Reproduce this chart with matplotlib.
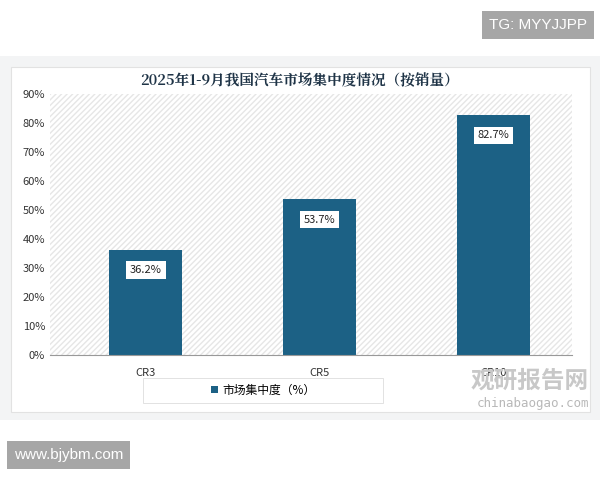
import matplotlib
matplotlib.use("Agg")
import matplotlib.pyplot as plt
from matplotlib.patches import Rectangle
from matplotlib.ticker import FuncFormatter

plt.rcParams["font.family"] = ["Noto Sans CJK SC", "DejaVu Sans"]

categories = ["CR3", "CR5", "CR10"]
values = [36.2, 53.7, 82.7]
title = "2025年1-9月我国汽车市场集中度情况（按销量）"
legend_label = "市场集中度（%）"
BAR = "#1c6185"

fig = plt.figure(figsize=(6, 4.8), dpi=100)
fig.patch.set_facecolor("white")

# card with soft shadow
fig.patches.append(Rectangle((0.0, 1 - 420 / 480), 1.0, (420 - 56) / 480,
                             transform=fig.transFigure, facecolor="#f3f4f5",
                             edgecolor="none", zorder=-3))
fig.patches.append(Rectangle((11 / 600, 1 - 412 / 480), 579 / 600, 345 / 480,
                             transform=fig.transFigure, facecolor="white",
                             edgecolor="#e2e2e2", linewidth=0.8, zorder=-2))
# legend frame
fig.patches.append(Rectangle((143 / 600, 1 - 403 / 480), 240 / 600, 25 / 480,
                             transform=fig.transFigure, facecolor="white",
                             edgecolor="#dddddd", linewidth=0.6, zorder=-1))

ax = fig.add_axes([50 / 600, 1 - 355 / 480, 522 / 600, 261 / 480])
ax.set_zorder(2)
ax.set_facecolor("none")
x = range(len(categories))
ax.set_xlim(-0.55, 2.45)
ax.set_ylim(0, 90)
ax.add_patch(Rectangle((0, 0), 1, 1, transform=ax.transAxes, facecolor="white",
                       edgecolor="#e6e6e6", hatch="//////", linewidth=0,
                       zorder=0))
bars = ax.bar(x, values, width=0.42, color=BAR, zorder=2, label=legend_label)
for xi, v in zip(x, values):
    ax.text(xi, v - 7, f"{v:.1f}%", ha="center", va="center", fontsize=8,
            color="#222222", zorder=3,
            bbox=dict(boxstyle="square,pad=0.35", facecolor="white",
                      edgecolor="none"))

ax.set_yticks(range(0, 91, 10))
ax.yaxis.set_major_formatter(FuncFormatter(lambda v, p: f"{int(v)}%"))
ax.set_xticks(list(x))
ax.set_xticklabels(categories)
ax.tick_params(length=0, labelsize=8, colors="#333333")
ax.tick_params(axis="x", pad=9)
for s in ["top", "right", "left"]:
    ax.spines[s].set_visible(False)
ax.spines["bottom"].set_color("#999999")

fig.text(0.5, 1 - 82 / 480, title, ha="center", va="center", fontsize=10.5,
         fontweight="bold", color="#1f3447",
         family=["Noto Serif CJK SC", "Noto Sans CJK SC", "DejaVu Sans"])

leg = fig.legend(handles=[bars], labels=[legend_label],
                 loc="center", bbox_to_anchor=(263 / 600, 1 - 390 / 480),
                 fontsize=8.5, frameon=False, handlelength=0.6,
                 handleheight=0.6, handletextpad=0.4)

# watermarks
fig.text(1 - 13 / 600, 1 - 25 / 480, "TG: MYYJJPP", ha="right", va="center",
         fontsize=11, color="white", family=["Liberation Sans"],
         bbox=dict(boxstyle="square,pad=0.45", facecolor="#a6a6a6",
                   edgecolor="none"))
fig.text(14 / 600, 1 - 455 / 480, "www.bjybm.com", ha="left", va="center",
         fontsize=11, color="white", family=["Liberation Sans"],
         bbox=dict(boxstyle="square,pad=0.45", facecolor="#a6a6a6",
                   edgecolor="none"))
fig.text(589 / 600, 1 - 381 / 480, "观研报告网", ha="right", va="center",
         fontsize=17, fontweight="bold", color="#c8c8c8", zorder=5)
fig.text(589 / 600, 1 - 404 / 480, "chinabaogao.com", ha="right", va="center",
         fontsize=9, color="#b8b8b8", family=["DejaVu Sans Mono"], zorder=5)

fig.savefig("out.png", dpi=100)
